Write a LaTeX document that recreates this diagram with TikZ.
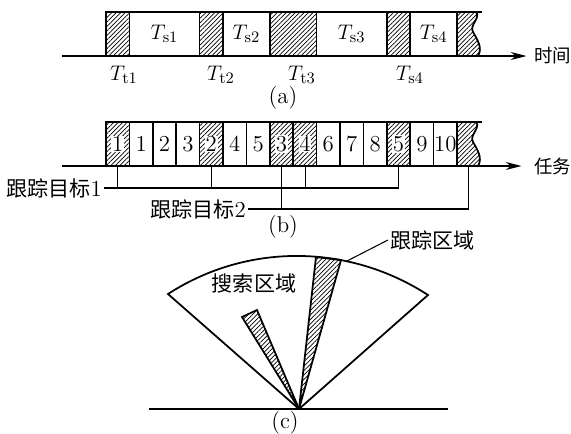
\documentclass[tikz,border=0pt]{standalone}
\usepackage{amsmath,amssymb}
\usepackage{fontspec}
\newfontfamily\cjk{Noto Sans CJK SC}
\usepackage{tikz}
\usetikzlibrary{arrows.meta,patterns.meta}

\newcommand{\hanzi}[1]{{\fontsize{12}{14}\selectfont\cjk #1}}
\newcommand{\axhanzi}[1]{{\fontsize{10.5}{12}\selectfont\cjk #1}}

\tikzset{
  hatch/.style={pattern={Lines[angle=45,distance=1.8pt,line width=0.4pt]}},
  slot/.style={line width=1pt},
  axis/.style={line width=0.7pt,-{Stealth[length=9pt,width=4.5pt]}},
  lead/.style={line width=0.6pt},
  numlab/.style={font=\fontsize{13}{15}\selectfont,inner sep=0.4pt},
  axlab/.style={anchor=west,inner sep=0pt},
}

\begin{document}
\begin{tikzpicture}[x=0.02cm,y=-0.02cm,font=\fontsize{13}{15}\selectfont]
\useasboundingbox (0,0) rectangle (571,433);
% (a) time axis
\foreach \k in {0,4,7,8,12}
  \fill[hatch] ({106+23.4*\k},12) rectangle ({129.4+23.4*\k},56);
\fill[hatch] (457,12) -- (476,12) .. controls (481,18) and (469,25) .. (473,32)
  .. controls (477,39) and (483,48) .. (478,56) -- (457,56) -- cycle;
\draw[slot] (106,56) -- (106,12) -- (482,12);
\foreach \k in {1,4,5,7,9,12,13,15}
  \draw[slot] ({106+23.4*\k},12) -- ({106+23.4*\k},56);
\draw[slot] (476,12) .. controls (481,18) and (469,25) .. (473,32)
  .. controls (477,39) and (483,48) .. (478,56);
\node[axlab] (time) at (534,56) {\axhanzi{时间}};
\draw[axis] (62,56) -- ([xshift=-0.15cm]time.west);
\node (ts1) at (164.5,34) {$T_{\mathrm{s1}}$};
\node (ts2) at (246.4,34) {$T_{\mathrm{s2}}$};
\node (ts3) at (351.7,34) {$T_{\mathrm{s3}}$};
\node (ts4) at (433.6,34) {$T_{\mathrm{s4}}$};
\node (tt1) at (124,75) {$T_{\mathrm{t1}}$};
\node (tt2) at (221,75) {$T_{\mathrm{t2}}$};
\node (tt3) at (302,75) {$T_{\mathrm{t3}}$};
\node (tt4) at (410,75) {$T_{\mathrm{s4}}$};
\node (capa) at (283,98) {(a)};
% (b) task axis
\foreach \k in {0,4,7,8,12}
  \fill[hatch] ({106+23.4*\k},122) rectangle ({129.4+23.4*\k},166);
\fill[hatch] (457,122) -- (476,122) .. controls (481,128) and (469,135) .. (473,142)
  .. controls (477,149) and (483,158) .. (478,166) -- (457,166) -- cycle;
\draw[slot] (106,166) -- (106,122) -- (482,122);
\foreach \k in {1,...,15}
  \draw[slot] ({106+23.4*\k},122) -- ({106+23.4*\k},166);
\draw[slot] (476,122) .. controls (481,128) and (469,135) .. (473,142)
  .. controls (477,149) and (483,158) .. (478,166);
\node[axlab] (task) at (534,166) {\axhanzi{任务}};
\draw[axis] (62,166) -- ([xshift=-0.25cm]task.west);
\foreach \k/\t in {0/1,4/2,7/3,8/4,12/5}
  \node[numlab,fill=white] (s\t) at ({117.7+23.4*\k},144) {\t};
\foreach \k/\t in {1/1,2/2,3/3,5/4,6/5,9/6,10/7,11/8,13/9,14/10}
  \node[numlab] (w\t) at ({117.7+23.4*\k},144) {\t};
\coordinate (h1) at (117.7,166);
\coordinate (h2) at (211.3,166);
\coordinate (h3) at (281.5,166);
\coordinate (h4) at (305.5,166);
\coordinate (h5) at (398.5,166);
\coordinate (he) at (468.7,166);
\node[anchor=east,inner sep=1pt] (tgt1) at (104,188) {\hanzi{跟踪目标}1};
\node[anchor=east,inner sep=1pt] (tgt2) at (248,209) {\hanzi{跟踪目标}2};
\draw[lead] (tgt1.east) -- (h5 |- tgt1.east) -- (h5);
\draw[lead] (h1) -- (h1 |- tgt1.east);
\draw[lead] (h2) -- (h2 |- tgt1.east);
\draw[lead] (h4) -- (h4 |- tgt1.east);
\draw[lead] (tgt2.east) -- (he |- tgt2.east) -- (he);
\draw[lead] (h3) -- (h3 |- tgt2.east);
\node (capb) at (283,227) {(b)};
% (c) search sector
\coordinate (apex) at (299,409);
\draw[slot] (149,409) -- (448,409);
\draw[slot] (apex) -- (168,294) .. controls (247.3,242.6) and (348.7,243.6) .. (428,295) -- cycle;
\filldraw[hatch,slot] (apex) -- (316,257) -- (341,260) -- cycle;
\filldraw[hatch,slot] (apex) -- (242,317) -- (257,310) -- cycle;
\node (search) at (254,283) {\hanzi{搜索区域}};
\node[anchor=west,inner sep=1pt] (track) at (388,240) {\hanzi{跟踪区域}};
\draw[lead] (347,261) -- (track.west);
\node (capc) at (285,423) {(c)};
\end{tikzpicture}
\end{document}
